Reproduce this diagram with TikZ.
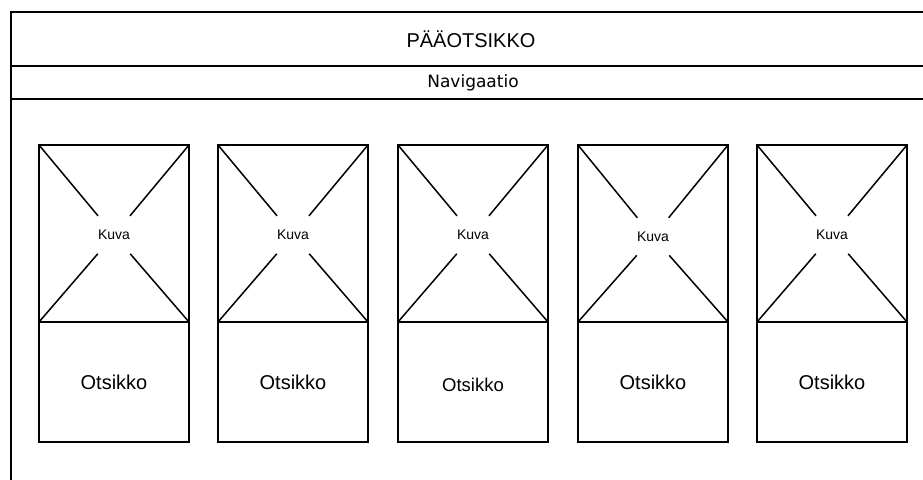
\documentclass[tikz,border=0pt]{standalone}
\usepackage{fontspec}
\setmainfont{Liberation Sans}
\newfontfamily\navfont{DejaVu Sans}
\usetikzlibrary{positioning}

\begin{document}
\begin{tikzpicture}[
  x=1pt, y=-1pt,
  frameline/.style={line width=2.4pt},
  kuvabox/.style={rectangle, draw, line width=2.4pt, outer sep=0pt, minimum width=150pt, minimum height=177pt},
  titlebox/.style={rectangle, draw, line width=2.4pt, outer sep=0pt, minimum width=150pt, minimum height=120pt, font=\fontsize{20}{22}\selectfont},
  kuvatext/.style={inner sep=0pt, minimum width=32pt, minimum height=38pt, font=\fontsize{14}{16}\selectfont},
  cross/.style={line width=1.5pt}
]
  \useasboundingbox (0,0) rectangle (923,479);
  % page frame, cut off at right and bottom
  \coordinate (fbl) at (11,482);
  \coordinate (ftl) at (11,12);
  \coordinate (ftr) at (926,12);
  \coordinate (hl) at (11,66);
  \coordinate (hr) at (926,66);
  \coordinate (nl) at (11,99);
  \coordinate (nr) at (926,99);
  \draw[frameline] (fbl) -- (ftl) -- (ftr);
  \draw[frameline] (hl) -- (hr);
  \draw[frameline] (nl) -- (nr);
  \node (header) at (471,39.5) {\fontsize{20}{22}\selectfont PÄÄOTSIKKO};
  \node (nav) at (473,83) {\navfont\fontsize{17}{19}\selectfont Navigaatio};

  % cards
  \node[kuvabox] (img1) at (114,233.5) {};
  \node[kuvabox] (img2) at (293,233.5) {};
  \node[kuvabox] (img3) at (473,233.5) {};
  \node[kuvabox] (img4) at (653,233.5) {};
  \node[kuvabox] (img5) at (832,233.5) {};
  \node[titlebox, below=0pt of img1] (ots1) {Otsikko};
  \node[titlebox, below=0pt of img2] (ots2) {Otsikko};
  \node[titlebox, below=0pt of img3, font=\fontsize{18.5}{20}\selectfont, text height=19pt] (ots3) {Otsikko};
  \node[titlebox, below=0pt of img4] (ots4) {Otsikko};
  \node[titlebox, below=0pt of img5] (ots5) {Otsikko};
  \node[kuvatext] (kuva1) at ([yshift=-1.5pt]img1.center) {Kuva};
  \node[kuvatext] (kuva2) at ([yshift=-1.5pt]img2.center) {Kuva};
  \node[kuvatext] (kuva3) at ([yshift=-1.5pt]img3.center) {Kuva};
  \node[kuvatext] (kuva4) at ([yshift=-3.5pt]img4.center) {Kuva};
  \node[kuvatext] (kuva5) at ([yshift=-1.5pt]img5.center) {Kuva};
  \draw[cross] (img1.north west) -- (kuva1) -- (img1.south east);
  \draw[cross] (img1.north east) -- (kuva1) -- (img1.south west);
  \draw[cross] (img2.north west) -- (kuva2) -- (img2.south east);
  \draw[cross] (img2.north east) -- (kuva2) -- (img2.south west);
  \draw[cross] (img3.north west) -- (kuva3) -- (img3.south east);
  \draw[cross] (img3.north east) -- (kuva3) -- (img3.south west);
  \draw[cross] (img4.north west) -- (kuva4) -- (img4.south east);
  \draw[cross] (img4.north east) -- (kuva4) -- (img4.south west);
  \draw[cross] (img5.north west) -- (kuva5) -- (img5.south east);
  \draw[cross] (img5.north east) -- (kuva5) -- (img5.south west);
\end{tikzpicture}
\end{document}
